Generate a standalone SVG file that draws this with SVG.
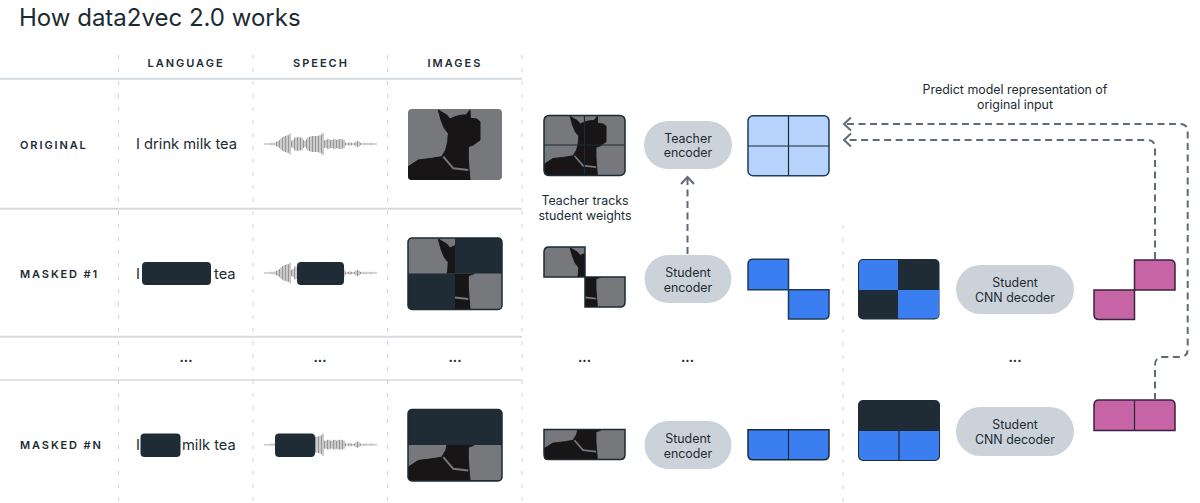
<svg xmlns="http://www.w3.org/2000/svg" width="1200" height="503" viewBox="0 0 1200 503">
<style>
text{font-family:"Inter","Liberation Sans",sans-serif;fill:#1c2b33}
.title{font-size:24px}
.hd{font-size:11px;font-weight:600;letter-spacing:2px;text-anchor:middle}
.row{font-size:11px;font-weight:600;letter-spacing:1.9px}
.cell{font-size:14.7px}
.lb{font-size:12.4px;text-anchor:middle}
.dots{font-size:13px;font-weight:700;text-anchor:middle}
.h{stroke:#d3dae0;stroke-width:2;fill:none}
.v{stroke:#d0d4d8;stroke-width:1;stroke-dasharray:4 9;fill:none}
.pill{fill:#cbd2d9}
.mask{fill:#1f2c35}
.o{fill:none;stroke:#1c2b33;stroke-width:1.5}
.op{fill:none;stroke:#3b2140;stroke-width:1.5}
.ob{fill:none;stroke:#1f3b57;stroke-width:1.5}
.l{fill:none;stroke:#1c2b33;stroke-width:1.2}
.blue{fill:#3b7ef2}.lblue{fill:#b5d3fb}.pink{fill:#c764a6}
.c{fill:none;stroke:#5f6b78;stroke-width:2;stroke-dasharray:7 4.5}
.wave{fill:none;stroke:#8a8a8a;stroke-width:1}
</style>
<defs>
<marker id="head" markerUnits="userSpaceOnUse" markerWidth="16" markerHeight="16" refX="14" refY="8" orient="auto" viewBox="0 0 16 16">
<path d="M7 1.500L14 8L7 14.500" fill="none" stroke="#5f6b78" stroke-width="2"/>
</marker>
<clipPath id="round"><rect width="94" height="71" rx="4"/></clipPath>
<g id="dog" clip-path="url(#round)">
<rect width="94" height="71" fill="#77787c"/>
<path d="M0 71V57.700L10.300 51L23.700 49.300L33.700 47.700L37.700 41L39.700 32.700L40.300 24.300L36.300 19.300L33 11L30.300 1L38.700 6L42 10L47 7.700L53.700 6L58 6L62 1L62.300 9.300L68.700 10L72 12.700L72 22.700L72 31L65.300 36L60.300 37.700L60.300 49.300L61 59.300L62 71Z" fill="#171516" stroke="#171516" stroke-linejoin="round"/>
<path d="M35.300 47.700L45.300 59.300L60.300 61" fill="none" stroke="#77787c" stroke-width="2"/>
</g>
<path id="wavef" class="wave" d="M265-1V1M267-1V1M269-1V1M271-1.500V1.500M273-1.500V1.500M275-2V2M276.500-3V3M278-3.500V3.500M279.500-5V5M281-7V7M282.500-8.500V8.500M284-9.500V9.500M285.500-10V10M287-11V11M288.500-11V11M290-13V13M291.500-4V4M293-5V5M294.500-8V8M296-8V8M297.500-8.500V8.500M299-8.500V8.500M300.500-8V8M302-8V8M303.500-5V5M305-4V4M306.500-6V6M308-8V8M309.500-9V9M311-9.500V9.500M312.500-10V10M314-10V10M315.500-10V10M317-10V10M318.500-10.500V10.500M320-11V11M321.500-12V12M323-14V14M324.500-5V5M326-5V5M327.500-6V6M329-6V6M330.500-5V5M332-5V5M333.500-6V6M335-6V6M336.500-5V5M338-6V6M339.500-6V6M341-6V6M342.500-6V6M344-5V5M345.500-2V2M347-1V1M348.500-1.500V1.500M350-2V2M351.500-1.500V1.500M353-1V1M354.500-1.500V1.500M356-3V3M357.500-4V4M359-3V3M360.500-1.500V1.500M362-1V1M364-1.500V1.500M366-1.500V1.500M368-1V1M370-1.500V1.500M372-1.500V1.500M374-1V1M376-1V1"/>
<clipPath id="c-m1"><path d="M408 238H455V273.500H408ZM455 273.500H502V310H455Z"/></clipPath>
<clipPath id="c-mn"><rect x="408" y="445" width="94" height="37"/></clipPath>
<clipPath id="c-s1"><path d="M544 247H585V277H544ZM585 277H626V308H585Z"/></clipPath>
<clipPath id="c-sn"><rect x="544" y="429.500" width="82" height="31"/></clipPath>
</defs>
<rect width="1200" height="503" fill="#fff"/>
<g id="title"><text class="title" x="19" y="26">How data2vec 2.0 works</text></g>
<g id="table">
<path class="h" d="M0 78.700H522M0 208.700H522M0 336.700H522"/>
<path class="h" style="stroke-width:1.5" d="M0 380H522"/>
<path class="v" d="M118.500 55V503M253 55V503M387.500 55V503M522 55V503M843 225V503"/>
</g>
<g id="headers">
<text class="hd" x="186" y="67">LANGUAGE</text>
<text class="hd" x="321" y="67">SPEECH</text>
<text class="hd" x="455" y="67">IMAGES</text>
<text class="row" x="20" y="149">ORIGINAL</text>
<text class="row" x="20" y="278">MASKED #1</text>
<text class="row" x="20" y="449">MASKED #N</text>
</g>
<g id="lang-original"><text class="cell" x="136" y="149">I drink milk tea</text></g>
<g id="lang-masked1"><text class="cell" x="136" y="279">I</text><rect class="mask" x="142" y="262" width="69" height="23" rx="4"/><text class="cell" x="214" y="279">tea</text></g>
<g id="lang-maskedn"><text class="cell" x="136" y="450">I</text><rect class="mask" x="140.500" y="433.500" width="40" height="23.500" rx="4"/><text class="cell" x="182" y="450">milk tea</text></g>
<g id="speech-original"><use href="#wavef" transform="translate(0 144) scale(1 .8)"/></g>
<g id="speech-masked1"><use href="#wavef" transform="translate(0 273) scale(1 .8)"/><rect class="mask" x="297" y="262" width="47" height="23" rx="4"/></g>
<g id="speech-maskedn"><use href="#wavef" transform="translate(0 444.700) scale(1 .8)"/><rect class="mask" x="275" y="433.500" width="40" height="23.500" rx="4"/></g>
<g id="image-original"><use href="#dog" x="408" y="109"/></g>
<g id="image-masked1">
<rect class="mask" x="408" y="238" width="94" height="71.500" rx="4"/>
<g clip-path="url(#c-m1)"><use href="#dog" x="408" y="238"/></g>
<rect class="o" x="408" y="238" width="94" height="71.500" rx="4"/>
</g>
<g id="image-maskedn">
<rect class="mask" x="408" y="409.500" width="94" height="71.500" rx="4"/>
<g clip-path="url(#c-mn)"><use href="#dog" x="408" y="409.500"/></g>
<rect class="o" x="408" y="409.500" width="94" height="71.500" rx="4"/>
</g>
<g id="patches-teacher">
<use href="#dog" transform="translate(544 115.500) scale(.862 .845)"/>
<rect class="o" x="544" y="115.500" width="81" height="60" rx="5"/>
<path class="l" d="M584.500 115.500V175.500M544 145H625"/>
</g>
<g id="teacher-encoder"><rect class="pill" x="644" y="121" width="88" height="48" rx="24"/><text class="lb" x="688" y="143">Teacher</text><text class="lb" x="688" y="157">encoder</text></g>
<g id="repr-teacher">
<rect class="lblue" x="748" y="115.700" width="81" height="60" rx="5"/>
<rect class="ob" x="748" y="115.700" width="81" height="60" rx="5"/>
<path class="l" d="M788.500 115.700V175.700M748 146H829"/>
</g>
<g id="label-tracks"><text class="lb" x="585" y="205">Teacher tracks</text><text class="lb" x="585" y="220">student weights</text></g>
<g id="label-predict"><text class="lb" x="1015" y="94">Predict model representation of</text><text class="lb" x="1015" y="109">original input</text></g>
<g id="patches-student1">
<g clip-path="url(#c-s1)"><use href="#dog" transform="translate(544 247) scale(.862 .845)"/></g>
<path class="o" d="M549 247H585V277H625V302Q625 307 620 307H585V277H544V252Q544 247 549 247Z"/>
</g>
<g id="student-encoder1"><rect class="pill" x="644.500" y="255" width="87" height="48" rx="24"/><text class="lb" x="688" y="277">Student</text><text class="lb" x="688" y="291.500">encoder</text></g>
<g id="repr-student1">
<path class="blue" d="M753 259.300H788.500V289.700H829V314Q829 319 824 319H788.500V289.700H748V264.300Q748 259.300 753 259.300Z"/>
<path class="ob" d="M753 259.300H788.500V289.700H829V314Q829 319 824 319H788.500V289.700H748V264.300Q748 259.300 753 259.300Z"/>
</g>
<g id="decoder-input1">
<rect class="mask" x="858" y="259" width="81.500" height="60.500" rx="5"/>
<path class="blue" d="M863 260H898V290H859V265Q859 260 863 260Z"/>
<path class="blue" d="M898 290H939V314Q939 318.500 934 318.500H898Z"/>
</g>
<g id="student-decoder1"><rect class="pill" x="956" y="265" width="118" height="49" rx="24.500"/><text class="lb" x="1015" y="287">Student</text><text class="lb" x="1015" y="301.700">CNN decoder</text></g>
<g id="output1">
<path class="pink" d="M1134.500 260H1170Q1175 260 1175 265V290H1134.500V319.500H1099Q1094 319.500 1094 314.500V290H1134.500Z"/>
<path class="op" d="M1134.500 260H1170Q1175 260 1175 265V290H1134.500V319.500H1099Q1094 319.500 1094 314.500V290H1134.500Z"/>
</g>
<g id="dots">
<text class="dots" x="186" y="362">...</text><text class="dots" x="320" y="362">...</text><text class="dots" x="455" y="362">...</text><text class="dots" x="584.500" y="362">...</text><text class="dots" x="687.500" y="362">...</text><text class="dots" x="1015" y="362">...</text>
</g>
<g id="patches-studentn">
<g clip-path="url(#c-sn)"><use href="#dog" transform="translate(544 400) scale(.862 .845)"/></g>
<path class="o" d="M544 429.500H625V454.500Q625 459.500 620 459.500H549Q544 459.500 544 454.500Z"/>
</g>
<g id="student-encodern"><rect class="pill" x="644.500" y="421" width="87" height="48" rx="24"/><text class="lb" x="688" y="443">Student</text><text class="lb" x="688" y="457.500">encoder</text></g>
<g id="repr-studentn">
<path class="blue" d="M748 429.700H829V454.700Q829 459.700 824 459.700H753Q748 459.700 748 454.700Z"/>
<path class="o" d="M748 429.700H829V454.700Q829 459.700 824 459.700H753Q748 459.700 748 454.700Z"/>
<path class="l" d="M788.500 429.700V459.700"/>
</g>
<g id="decoder-inputn">
<rect class="mask" x="858" y="400" width="82" height="61" rx="5"/>
<path class="blue" d="M859 431H939V455Q939 460 934 460H864Q859 460 859 455Z"/>
<path class="l" d="M899 431V460"/>
</g>
<g id="student-decodern"><rect class="pill" x="956" y="407" width="118" height="49" rx="24.500"/><text class="lb" x="1015" y="429">Student</text><text class="lb" x="1015" y="443.500">CNN decoder</text></g>
<g id="outputn">
<path class="pink" d="M1099 400H1170Q1175 400 1175 405V430.500H1094V405Q1094 400 1099 400Z"/>
<path class="op" d="M1099 400H1170Q1175 400 1175 405V430.500H1094V405Q1094 400 1099 400Z"/>
<path class="l" d="M1134.500 400V430.500"/>
</g>
<g id="connectors">
<path class="c" d="M687.500 254V177" marker-end="url(#head)"/>
<path class="c" d="M1155 259V148Q1155 140 1147 140H844" marker-end="url(#head)"/>
<path class="c" d="M1155 400V365Q1155 357 1163 357H1180Q1187.700 357 1187.700 349V132Q1187.700 124 1180 124H844" marker-end="url(#head)"/>
</g>
</svg>
